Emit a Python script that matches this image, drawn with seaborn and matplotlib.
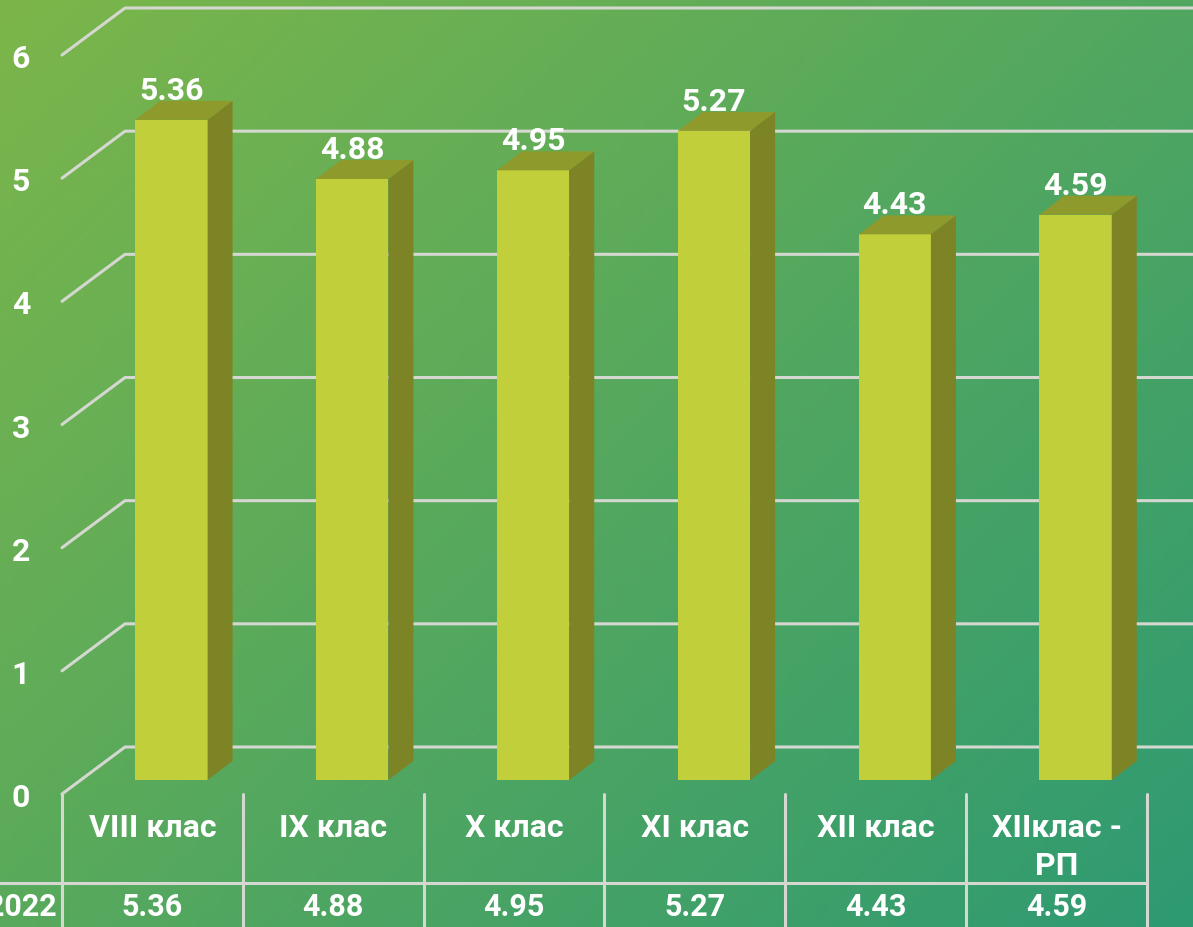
import numpy as np
import pandas as pd
import matplotlib
matplotlib.use("Agg")
import matplotlib.pyplot as plt
import seaborn as sns
from matplotlib.patches import Polygon
from matplotlib.lines import Line2D
from matplotlib.transforms import IdentityTransform, ScaledTranslation

# chart data
categories = ["VIII клас", "IX клас", "X клас", "XI клас", "XII клас", "XIIклас -\nРП"]
values = [5.36, 4.88, 4.95, 5.27, 4.43, 4.59]
series_name = "2022"
y_ticks = [0, 1, 2, 3, 4, 5, 6]

W, H = 1193, 928
DPI = 100

sns.set_theme(style="white")
plt.rcParams["font.family"] = ["Roboto", "DejaVu Sans"]
plt.rcParams["font.weight"] = "bold"

fig = plt.figure(figsize=(W / DPI, H / DPI), dpi=DPI)

# gradient background
bg = fig.add_axes([0, 0, 1, 1], zorder=-10)
xx, yy = np.meshgrid(np.linspace(0, 1, 200), np.linspace(0, 1, 200))
t = (xx * 0.55 + yy * 0.45)
c0 = np.array([124, 182, 74]) / 255
c1 = np.array([46, 154, 114]) / 255
img = c0 + (c1 - c0) * t[..., None]
bg.imshow(img, extent=[0, 1, 1, 0], aspect="auto")
bg.set_xlim(0, 1)
bg.set_ylim(1, 0)
bg.axis("off")

# main axes = front plane of the 3D box
x0, x1 = 62, 1147
ytop, ybot = 56, 795
ax = fig.add_axes([x0 / W, (H - ybot) / H, (x1 - x0) / W, (ybot - ytop) / H])
ax.patch.set_alpha(0)

df = pd.DataFrame({"cat": categories, "val": values})
sns.barplot(data=df, x="cat", y="val", ax=ax, color="#c1d03a",
            saturation=1, width=0.40, linewidth=0, zorder=3)
ax.set_xlim(-0.5, len(categories) - 0.5)
ax.set_ylim(0, 6)
for s in ax.spines.values():
    s.set_visible(False)
ax.set_xlabel("")
ax.set_ylabel("")
ax.set_xticks([])
ax.set_yticks(y_ticks)
ax.set_yticklabels([str(v) for v in y_ticks])
ax.tick_params(axis="y", length=0, pad=23, labelsize=23, labelcolor="white")
ax.grid(False)

# depth offsets in pixels (display coords, y up)
wall = np.array([63, 47])
bar_front = np.array([19, 14])
bar_back = np.array([44, 33])
grid_col = "#d4d8d0"
ident = IdentityTransform()

def disp(x, y):
    return ax.transData.transform((x, y))

# gridlines: diagonal on the left side, then along the back wall
for v in y_ticks:
    p = disp(-0.5, v)
    q = p + wall
    ax.add_line(Line2D([p[0], q[0], W + 50], [p[1], q[1], q[1]], transform=ident,
                       color=grid_col, lw=2.2, zorder=1, clip_on=False))

# bars: shift front face back, add side and top faces
off = ScaledTranslation(bar_front[0] / DPI, bar_front[1] / DPI, fig.dpi_scale_trans)
for bar in ax.patches:
    bar.set_transform(ax.transData + off)
    bar.set_clip_on(False)
    bx, bw, bh = bar.get_x(), bar.get_width(), bar.get_height()
    fr = disp(bx + bw, 0) + bar_front
    tl = disp(bx, bh) + bar_front
    tr = disp(bx + bw, bh) + bar_front
    d = bar_back - bar_front
    side = Polygon([fr, tr, tr + d, fr + d], closed=True, transform=ident,
                   facecolor="#7c8426", edgecolor="none", zorder=3, clip_on=False)
    top = Polygon([tl, tr, tr + d, tl + d], closed=True, transform=ident,
                  facecolor="#8e9a2c", edgecolor="none", zorder=3, clip_on=False)
    ax.add_patch(side)
    ax.add_patch(top)
    cx = (tl[0] + tr[0]) / 2
    ax.text(cx, (tr + d)[1] + 2, f"{bh:.2f}", transform=ident, ha="center",
            va="baseline", color="white", fontsize=23, fontweight="bold", zorder=5)

# data table under the chart
ytab0 = H - 795
ytab1 = H - 884
for i in range(len(categories) + 1):
    xp = disp(i - 0.5, 0)[0]
    ax.add_line(Line2D([xp, xp], [ytab0, -5], transform=ident, color=grid_col,
                       lw=2.2, zorder=2, clip_on=False))
ax.add_line(Line2D([-5, disp(len(categories) - 0.5, 0)[0]], [ytab1, ytab1],
                   transform=ident, color=grid_col, lw=2.2, zorder=2, clip_on=False))

for i, (c, v) in enumerate(zip(categories, values)):
    xc = disp(i, 0)[0]
    for j, line in enumerate(c.split("\n")):
        ax.text(xc, H - 837 - j * 38, line, transform=ident, ha="center",
                va="baseline", color="white", fontsize=23, fontweight="bold")
    ax.text(xc, H - 916, f"{v:.2f}", transform=ident, ha="center",
            va="baseline", color="white", fontsize=22, fontweight="bold")

ax.text(57, H - 916, series_name, transform=ident, ha="right", va="baseline",
        color="white", fontsize=22, fontweight="bold")

fig.savefig("out.png", dpi=DPI)
